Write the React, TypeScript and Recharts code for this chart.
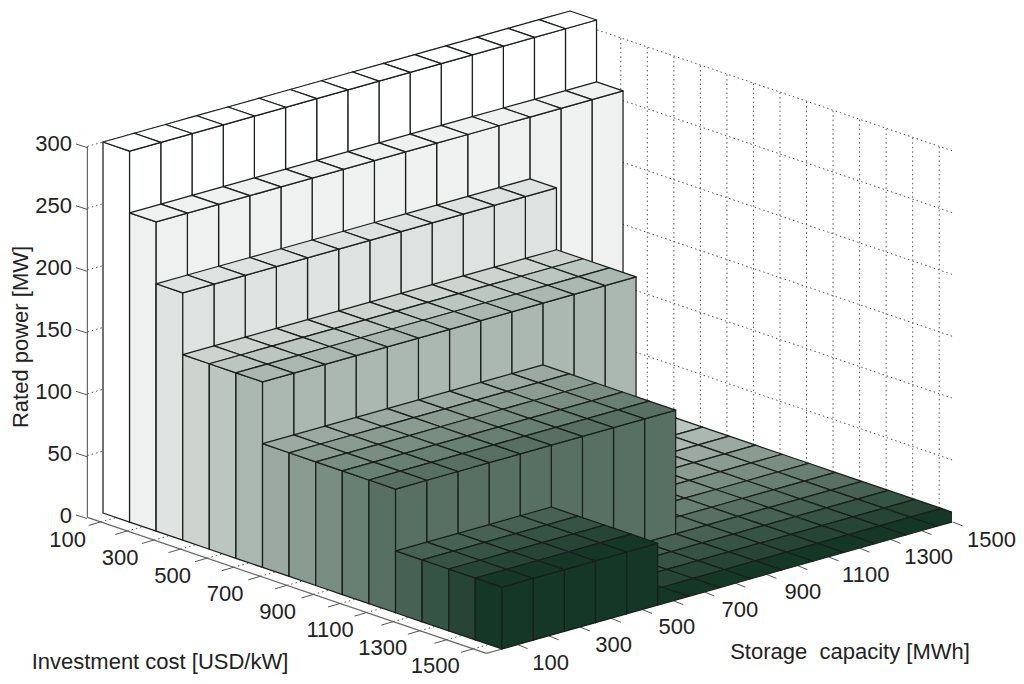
import React from "react";
import { ComposedChart, Scatter, XAxis, YAxis } from "recharts";

const investmentCost = [100, 200, 300, 400, 500, 600, 700, 800, 900, 1000, 1100, 1200, 1300, 1400, 1500];
const storageCapacity = [100, 200, 300, 400, 500, 600, 700, 800, 900, 1000, 1100, 1200, 1300, 1400, 1500];
const investmentLabels = [100, 300, 500, 700, 900, 1100, 1300, 1500];
const storageLabels = [100, 300, 500, 700, 900, 1100, 1300, 1500];
const powerTicks = [0, 50, 100, 150, 200, 250, 300];

// rated power [MW]: one row per investment cost, one value per storage capacity
const ratedPower = [
  [300, 300, 300, 300, 300, 300, 300, 300, 300, 300, 300, 300, 300, 300, 300],
  [250, 250, 250, 250, 250, 250, 250, 250, 250, 250, 250, 250, 250, 250, 250],
  [200, 200, 200, 200, 200, 200, 200, 200, 200, 200, 200, 200, 0, 0, 0],
  [150, 150, 150, 150, 150, 150, 150, 150, 150, 150, 150, 150, 0, 0, 0],
  [150, 150, 150, 150, 150, 150, 150, 150, 150, 150, 150, 150, 0, 0, 0],
  [150, 150, 150, 150, 150, 150, 150, 150, 150, 150, 150, 150, 0, 0, 0],
  [100, 100, 100, 100, 100, 100, 100, 100, 100, 0, 0, 0, 0, 0, 0],
  [100, 100, 100, 100, 100, 100, 100, 100, 100, 0, 0, 0, 0, 0, 0],
  [100, 100, 100, 100, 100, 100, 100, 100, 100, 0, 0, 0, 0, 0, 0],
  [100, 100, 100, 100, 100, 100, 100, 100, 100, 0, 0, 0, 0, 0, 0],
  [100, 100, 100, 100, 100, 100, 100, 100, 100, 0, 0, 0, 0, 0, 0],
  [50, 50, 50, 50, 50, 0, 0, 0, 0, 0, 0, 0, 0, 0, 0],
  [50, 50, 50, 50, 50, 0, 0, 0, 0, 0, 0, 0, 0, 0, 0],
  [50, 50, 50, 50, 50, 0, 0, 0, 0, 0, 0, 0, 0, 0, 0],
  [50, 50, 50, 50, 50, 0, 0, 0, 0, 0, 0, 0, 0, 0, 0],
];

const rowColors = [
  "#ffffff", "#eef1ef", "#dee2e0", "#cdd4d0", "#bcc6c1", "#abb8b1", "#9ba9a2", "#8a9b92",
  "#798d83", "#687f73", "#587064", "#476254", "#365445", "#264535", "#153726",
];

const WIDTH = 1024;
const HEIGHT = 684;
const AXIS_X = 87;
const FLOOR_Y = 515;
const PX_PER_MW = 1.2367;
const CUT_X = 952;
const FONT = "'Liberation Sans', Arial, sans-serif";

// camera: the ground corners of the bar field as seen in the picture
const cornerL = [103, 513];
const cornerF = [502, 649];
const cornerR = [968, 517.5];
const cornerB = [570, 382];

const dx1 = cornerF[0] - cornerR[0];
const dx2 = cornerB[0] - cornerR[0];
const sx = cornerL[0] - cornerF[0] + cornerR[0] - cornerB[0];
const dy1 = cornerF[1] - cornerR[1];
const dy2 = cornerB[1] - cornerR[1];
const sy = cornerL[1] - cornerF[1] + cornerR[1] - cornerB[1];
const den = dx1 * dy2 - dx2 * dy1;
const hg = (sx * dy2 - dx2 * sy) / den;
const hh = (dx1 * sy - sx * dy1) / den;

// u: position along investment cost (0..15), v: along storage (0..15), z: MW
// result: x in picture units, y in the MW units of the Y axis
function project(u: number, v: number, z: number) {
  const s = u / 15;
  const t = v / 15;
  const w = hg * s + hh * t + 1;
  const gx = ((cornerF[0] - cornerL[0] + hg * cornerF[0]) * s + (cornerB[0] - cornerL[0] + hh * cornerB[0]) * t + cornerL[0]) / w;
  const gy = ((cornerF[1] - cornerL[1] + hg * cornerF[1]) * s + (cornerB[1] - cornerL[1] + hh * cornerB[1]) * t + cornerL[1]) / w;
  return { x: gx, y: (FLOOR_Y - gy) / PX_PER_MW + z };
}

type Pt = { x: number; y: number };

const cellMarks: any[] = [];
ratedPower.forEach((row, r) => {
  for (let c = storageCapacity.length - 1; c >= 0; c--) {
    const h = row[c];
    const anchor = project(r + 0.5, c + 0.5, h);
    cellMarks.push({
      x: anchor.x,
      y: anchor.y,
      cost: investmentCost[r],
      storage: storageCapacity[c],
      power: h,
      color: rowColors[r],
      top: [project(r, c, h), project(r + 1, c, h), project(r + 1, c + 1, h), project(r, c + 1, h)],
      sideLeft: h > 0 ? [project(r, c, 0), project(r + 1, c, 0), project(r + 1, c, h), project(r, c, h)] : null,
      sideFront: h > 0 ? [project(r + 1, c, 0), project(r + 1, c + 1, 0), project(r + 1, c + 1, h), project(r + 1, c, h)] : null,
    });
  }
});

function segment(a: Pt, b: Pt, dotted: boolean) {
  return { x: a.x, y: a.y, end: b, dotted };
}

const gridMarks: any[] = [];
powerTicks.forEach((z) => {
  if (z > 0) {
    gridMarks.push(segment(project(0, -0.5, z), project(0, 14.5, z), true));
    gridMarks.push(segment(project(0, 14.5, z), project(15, 14.5, z), true));
  }
});
investmentCost.forEach((_, i) => {
  gridMarks.push(segment(project(i + 0.5, 14.5, 0), project(i + 0.5, 14.5, 300), true));
  gridMarks.push(segment(project(i + 0.5, -0.5, 0), project(i + 0.5, 14.5, 0), true));
});

const axisMarks: any[] = [
  segment(project(0, -0.5, 0), project(0, -0.5, 300), false),
  segment(project(0, -0.5, 0), project(15, -0.5, 0), false),
  segment(project(15, -0.5, 0), project(15, 0, 0), false),
];
investmentCost.forEach((_, i) => {
  const p = project(i + 0.5, -0.5, 0);
  axisMarks.push({ x: p.x, y: p.y, tick: [-12, 3.5] });
});
storageCapacity.forEach((_, i) => {
  const p = project(15, i + 0.5, 0);
  axisMarks.push({ x: p.x, y: p.y, tick: [10, 4] });
});

const labelMarks: any[] = [
  ...investmentLabels.map((value, i) => {
    const p = project(investmentCost.indexOf(value) + 0.5, -0.5, 0);
    return { x: p.x, y: p.y, text: String(value), off: [-33 - i * 0.7, 18 - i * 0.2] };
  }),
  ...storageLabels.map((value, i) => {
    const p = project(15, storageCapacity.indexOf(value) + 0.5, 0);
    return { x: p.x, y: p.y, text: String(value), off: [33 + i * 0.85, 17.5] };
  }),
];

function CellShape(props: any) {
  const { cx, cy, payload: d } = props;
  const px = (p: Pt) => cx + (p.x - d.x);
  const py = (p: Pt) => cy - (p.y - d.y) * PX_PER_MW;
  const pts = (list: Pt[]) => list.map((p) => `${px(p).toFixed(2)},${py(p).toFixed(2)}`).join(" ");
  const common = { fill: d.color, stroke: "#1a1f1c", strokeWidth: 1.25, strokeLinejoin: "round" as const };
  return (
    <g clipPath="url(#cut-right)">
      <clipPath id="cut-right">
        <rect x={0} y={0} width={CUT_X} height={HEIGHT} />
      </clipPath>
      {d.sideLeft ? <polygon points={pts(d.sideLeft)} {...common} /> : null}
      {d.sideFront ? <polygon points={pts(d.sideFront)} {...common} /> : null}
      <polygon points={pts(d.top)} {...common} />
    </g>
  );
}

function SegmentShape(props: any) {
  const { cx, cy, payload: d } = props;
  if (d.tick) {
    return <line x1={cx} y1={cy} x2={cx + d.tick[0]} y2={cy + d.tick[1]} stroke="#555" strokeWidth={1} />;
  }
  return (
    <line
      x1={cx}
      y1={cy}
      x2={cx + (d.end.x - d.x)}
      y2={cy - (d.end.y - d.y) * PX_PER_MW}
      stroke={d.dotted ? "#555" : "#666"}
      strokeWidth={d.dotted ? 1 : 1.2}
      strokeDasharray={d.dotted ? "1.5 3" : undefined}
    />
  );
}

function LabelShape(props: any) {
  const { cx, cy, payload: d } = props;
  return (
    <text x={cx + d.off[0]} y={cy + d.off[1]} textAnchor="middle" dominantBaseline="central" fontFamily={FONT} fontSize={22} fill="#222">
      {d.text}
    </text>
  );
}

function PowerTick(props: any) {
  const { y, payload } = props;
  return (
    <g>
      <line x1={76} y1={y} x2={AXIS_X} y2={y + 3.5} stroke="#555" strokeWidth={1} />
      <text x={72} y={y} textAnchor="end" dominantBaseline="central" fontFamily={FONT} fontSize={22} fill="#222">
        {payload.value}
      </text>
    </g>
  );
}

const titleStyle = { fontFamily: FONT, fontSize: 22, fill: "#222", whiteSpace: "pre" as const };

function TitleShape(props: any) {
  const { cx, cy, payload: d } = props;
  return (
    <text
      x={cx}
      y={cy}
      textAnchor="middle"
      dominantBaseline="central"
      style={titleStyle}
      transform={d.rotate ? `rotate(${d.rotate} ${cx} ${cy})` : undefined}
    >
      {d.text}
    </text>
  );
}

const toMw = (py: number) => (FLOOR_Y - py) / PX_PER_MW;
const titleMarks = [
  { x: 20, y: toMw(337), text: "Rated power [MW]", rotate: -90 },
  { x: 160, y: toMw(661), text: "Investment cost [USD/kW]" },
  { x: 850, y: toMw(651), text: "Storage  capacity [MWh]" },
];

export default function App() {
  return (
    <div style={{ position: "absolute", left: 0, top: 0, width: WIDTH, height: HEIGHT, background: "#fff" }}>
      <ComposedChart width={WIDTH} height={HEIGHT} margin={{ top: 0, right: 0, bottom: 0, left: 0 }}>
        <XAxis type="number" dataKey="x" domain={[0, WIDTH]} hide />
        <YAxis
          type="number"
          dataKey="y"
          mirror
          width={60}
          domain={[toMw(HEIGHT), toMw(0)]}
          ticks={powerTicks}
          interval={0}
          axisLine={false}
          tickLine={false}
          tick={<PowerTick />}
        />
        <Scatter data={gridMarks} shape={<SegmentShape />} isAnimationActive={false} />
        <Scatter data={axisMarks} shape={<SegmentShape />} isAnimationActive={false} />
        <Scatter data={cellMarks} shape={<CellShape />} isAnimationActive={false} />
        <Scatter data={labelMarks} shape={<LabelShape />} isAnimationActive={false} />
        <Scatter data={titleMarks} shape={<TitleShape />} isAnimationActive={false} />
      </ComposedChart>
    </div>
  );
}
